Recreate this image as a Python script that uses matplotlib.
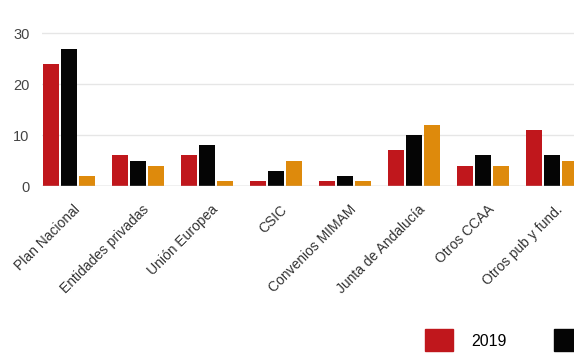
import matplotlib.pyplot as plt
import numpy as np
from matplotlib.patches import Patch

plt.rcParams['font.family'] = ['Liberation Sans', 'DejaVu Sans']

# Datos
categorias = ['Plan Nacional', 'Entidades privadas', 'Unión Europea', 'CSIC',
              'Convenios MIMAM', 'Junta de Andalucía', 'Otros CCAA', 'Otros pub y fund.']
valores_2019 = [24, 6, 6, 1, 1, 7, 4, 11]
valores_2020 = [27, 5, 8, 3, 2, 10, 6, 6]
valores_2021 = [2, 4, 1, 5, 1, 12, 4, 5]
series = ['2019', '2020', '2021']
colores = ['#c0171c', '#050505', '#de8a0c']

fig = plt.figure(figsize=(5.74, 3.54), dpi=100)
W, H = 574, 354

# eje (se sale por la derecha, como en el original recortado)
izq, abajo = 42, 186
x0, x1 = -0.387, 7.5
px_x = 69.0
ancho = (x1 - x0) * px_x
y1 = 30.5
alto = y1 * (186 - 33.3) / 30
ax = fig.add_axes([izq / W, (H - abajo) / H, ancho / W, alto / H])

x = np.arange(len(categorias))
bw = 16 / px_x
paso = 18 / px_x
for i, (vals, col) in enumerate(zip([valores_2019, valores_2020, valores_2021], colores)):
    ax.bar(x + (i - 1) * paso, vals, width=bw, color=col, zorder=3)

ax.set_xlim(x0, x1)
ax.set_ylim(0, y1)
ax.set_yticks([0, 10, 20, 30])
ax.tick_params(axis='y', length=0, pad=9, labelsize=10.5, labelcolor='#444444')
ax.grid(axis='y', color='#e6e6e6', linewidth=1, zorder=0)
ax.axhline(0, color='#cccccc', linewidth=1, zorder=4)
for s in ax.spines.values():
    s.set_visible(False)

ax.set_xticks(x + 0.06)
ax.set_xticklabels(categorias, rotation=45, ha='right', rotation_mode='anchor',
                   fontsize=10, color='#333333')
ax.tick_params(axis='x', length=0, pad=12)

# Leyenda
manejadores = [Patch(color=c) for c in colores]
fig.legend(manejadores, series, ncol=3, loc='upper left',
           bbox_to_anchor=(419 / W, 1 - 323 / H), frameon=False,
           fontsize=11.5, handlelength=1.75, handleheight=1.75,
           handletextpad=1.1, columnspacing=3.0, borderaxespad=0)

plt.savefig('out.png', dpi=100)
